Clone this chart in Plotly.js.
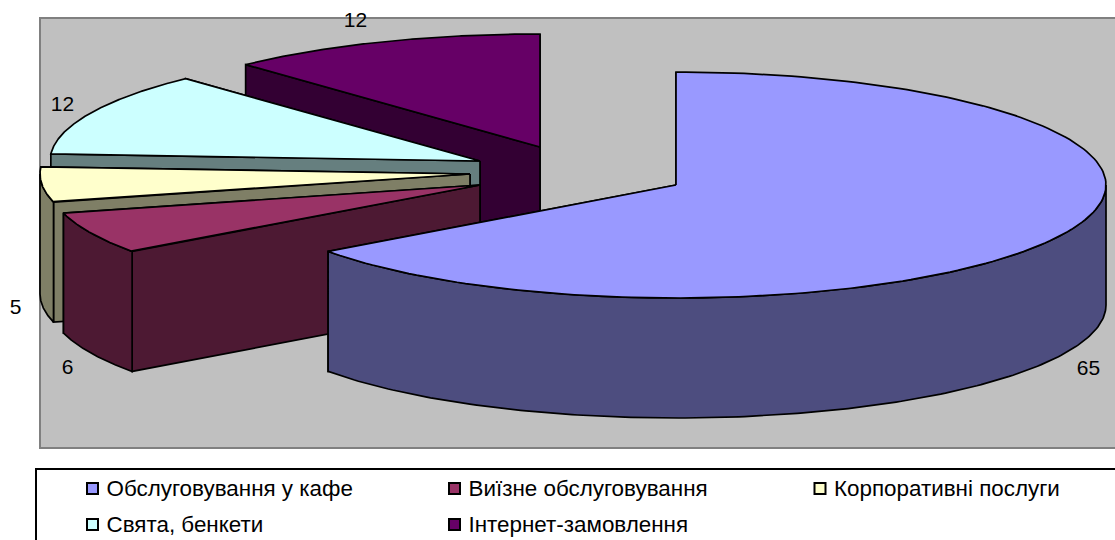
<!DOCTYPE html>
<html>
<head>
<meta charset="utf-8">
<script src="https://cdn.plot.ly/plotly-3.0.1.min.js"></script>
<style>html,body{margin:0;padding:0;background:#fff}#chart{width:1115px;height:540px}</style>
</head>
<body>
<div id="chart"></div>
<script>
// Data
const categories = ['Обслуговування у кафе', 'Виїзне обслуговування', 'Корпоративні послуги', 'Свята, бенкети', 'Інтернет-замовлення'];
const values = [65, 6, 5, 12, 12];
const valueLabels = ['65', '6', '5', '12', '12'];

// Style and layout (separate from the data)
const topColors = ['#9999FF', '#993366', '#FFFFCC', '#CCFFFF', '#660066'];
const sideColors = ['#4D4D7F', '#4D1933', '#7F7F66', '#667F7F', '#330033'];
const rx = 430, ry = 113, depth = 120;
const apexX = [676, 480, 470, 480, 540];
const apexY = [185, 185, 174, 161, 147];
const labelX = [1088.5, 67.5, 15.5, 62.5, 355.5];
const labelY = [370, 369, 309, 106, 22];
const swatchX = [92.5, 454.5, 820, 92.5, 454.5];
const swatchY = [488.5, 488.5, 488.5, 524.5, 524.5];
const legendTextDX = 14, legendTextDY = 2;
const FONT = 'Liberation Sans, Arial, sans-serif';
const EDGE = {color: '#000', width: 1.7};

const total = values.reduce((a, b) => a + b, 0);
const rim = (i, deg, dz) => {
  const r = deg * Math.PI / 180;
  return [apexX[i] + rx * Math.sin(r), apexY[i] - ry * Math.cos(r) + dz];
};
const poly = (pts, fill, name) => ({
  type: 'scatter', mode: 'lines', x: pts.map(p => p[0]), y: pts.map(p => p[1]),
  fill: 'toself', fillcolor: fill, line: EDGE, showlegend: false, hoverinfo: 'text', text: name
});
const arc = (i, a, b, dz) => {
  const out = [];
  for (let k = 0; k <= 180; k++) out.push(rim(i, a + (b - a) * k / 180, dz));
  return out;
};

const sliceTraces = [];
let cum = 0;
const spans = values.map(v => { const s = [cum, cum + v / total * 360]; cum = s[1]; return s; });
// paint back to front
for (const i of [4, 3, 2, 1, 0]) {
  const [a, b] = spans[i];
  const name = categories[i] + ': ' + values[i];
  const apex = [apexX[i], apexY[i]], low = [apexX[i], apexY[i] + depth];
  const face = d => [apex, rim(i, d, 0), rim(i, d, depth), low, apex];
  sliceTraces.push(poly(face(b), sideColors[i], name));
  sliceTraces.push(poly(face(a), sideColors[i], name));
  const wa = Math.max(a, 90), wb = Math.min(b, 270);
  if (wb > wa) {
    const upper = arc(i, wa, wb, 0), lower = arc(i, wb, wa, depth);
    sliceTraces.push(poly(upper.concat(lower, [upper[0]]), sideColors[i], name));
  }
  sliceTraces.push(poly([apex].concat(arc(i, a, b, 0), [apex]), topColors[i], name));
}

const labelTrace = {
  type: 'scatter', mode: 'text', x: labelX, y: labelY, text: valueLabels,
  textposition: 'middle center', textfont: {family: FONT, size: 21, color: '#000'},
  showlegend: false, hoverinfo: 'skip', cliponaxis: false
};
const legendSwatches = categories.map((c, i) => ({
  type: 'scatter', mode: 'markers', name: c, x: [swatchX[i]], y: [swatchY[i]],
  marker: {symbol: 'square', size: 11, color: topColors[i], line: {color: '#000', width: 2}},
  showlegend: false, hoverinfo: 'skip', cliponaxis: false
}));
const legendText = {
  type: 'scatter', mode: 'text', x: swatchX.map(v => v + legendTextDX), y: swatchY.map(v => v + legendTextDY),
  text: categories, textposition: 'middle right', textfont: {family: FONT, size: 22.4, color: '#000'},
  showlegend: false, hoverinfo: 'skip', cliponaxis: false
};

const hidden = {visible: false, fixedrange: true};
const layout = {
  width: 1115, height: 540, margin: {l: 0, r: 0, t: 0, b: 0},
  paper_bgcolor: '#fff', plot_bgcolor: '#fff', showlegend: false,
  xaxis: Object.assign({range: [0, 1115]}, hidden),
  yaxis: Object.assign({range: [540, 0]}, hidden),
  shapes: [
    {type: 'rect', layer: 'below', x0: 40, x1: 1116, y0: 18, y1: 448, fillcolor: '#C0C0C0', line: {color: '#808080', width: 2}},
    {type: 'rect', layer: 'below', x0: 36, x1: 1120, y0: 469, y1: 545, fillcolor: '#fff', line: {color: '#000', width: 2}}
  ]
};
Plotly.newPlot('chart', sliceTraces.concat(labelTrace, legendSwatches, legendText), layout, {displayModeBar: false, staticPlot: true});
</script>
</body>
</html>
